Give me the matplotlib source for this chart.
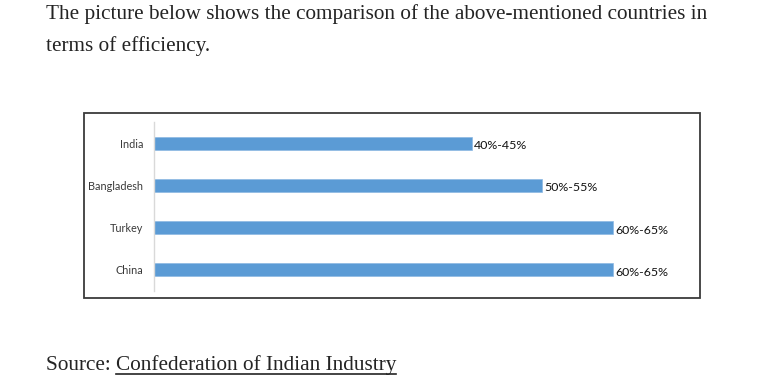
import matplotlib
matplotlib.use("Agg")
import matplotlib.pyplot as plt
from matplotlib.patches import Rectangle
from matplotlib.lines import Line2D

countries = ["India", "Bangladesh", "Turkey", "China"]
upper_values = [45, 55, 65, 65]
value_labels = ["40%-45%", "50%-55%", "60%-65%", "60%-65%"]

W, H = 773, 382
fig = plt.figure(figsize=(W / 100, H / 100), dpi=100)
fig.patch.set_facecolor("white")

def fx(x):
    return x / W

def fy(y):
    return 1 - y / H

# paragraph text
txt_color = "#242424"
serif = ["Liberation Serif", "DejaVu Serif"]
FS = 15.3
fig.text(fx(46), fy(14), "The picture below shows the comparison of the above-mentioned countries in",
         fontsize=FS, family=serif, color=txt_color, va="center", ha="left")
fig.text(fx(46), fy(46), "terms of efficiency.",
         fontsize=FS, family=serif, color=txt_color, va="center", ha="left")

# chart frame
frame = Rectangle((fx(84), fy(298)), fx(700) - fx(84), fy(113) - fy(298),
                  transform=fig.transFigure, fill=False, edgecolor="#3a3a3a", linewidth=1.3)
fig.patches.append(frame)

ax = fig.add_axes([fx(154), fy(291), fx(690) - fx(154), fy(122) - fy(291)])
ypos = list(range(len(countries)))
ax.barh(ypos, upper_values, height=0.31, color="#5b9bd5", edgecolor="#8db8e3", linewidth=0.5)
ax.set_xlim(0, 75.9)
ax.set_ylim(3.5, -0.5)
ax.set_yticks(ypos)
ax.set_yticklabels(countries, family=["Lato", "DejaVu Sans"], fontsize=7.85, color="#3a3a3a")
ax.tick_params(axis="y", length=0, pad=7.8)
ax.set_xticks([])
for s in ["top", "right", "bottom"]:
    ax.spines[s].set_visible(False)
ax.spines["left"].set_color("#d9d9d9")
ax.spines["left"].set_linewidth(1.0)
ax.set_facecolor("none")
for y, v, lab in zip(ypos, upper_values, value_labels):
    ax.text(v + 0.3, y + 0.06, lab, va="center", ha="left", fontsize=8.9,
            family=["Lato", "DejaVu Sans"], color="#111111")

# source line
t1 = fig.text(fx(46), fy(365), "Source: ", fontsize=FS, family=serif, color=txt_color,
              va="center", ha="left")
fig.canvas.draw()
r = fig.canvas.get_renderer()
bb = t1.get_window_extent(renderer=r)
t2 = fig.text(bb.x1 / W, fy(365), "Confederation of Indian Industry", fontsize=FS, family=serif,
              color=txt_color, va="center", ha="left")
bb2 = t2.get_window_extent(renderer=r)
fig.lines.append(Line2D([bb2.x0 / W, bb2.x1 / W], [fy(373.5), fy(373.5)], transform=fig.transFigure,
                        color=txt_color, linewidth=1.2))

fig.savefig("out.png", dpi=100, facecolor="white")
